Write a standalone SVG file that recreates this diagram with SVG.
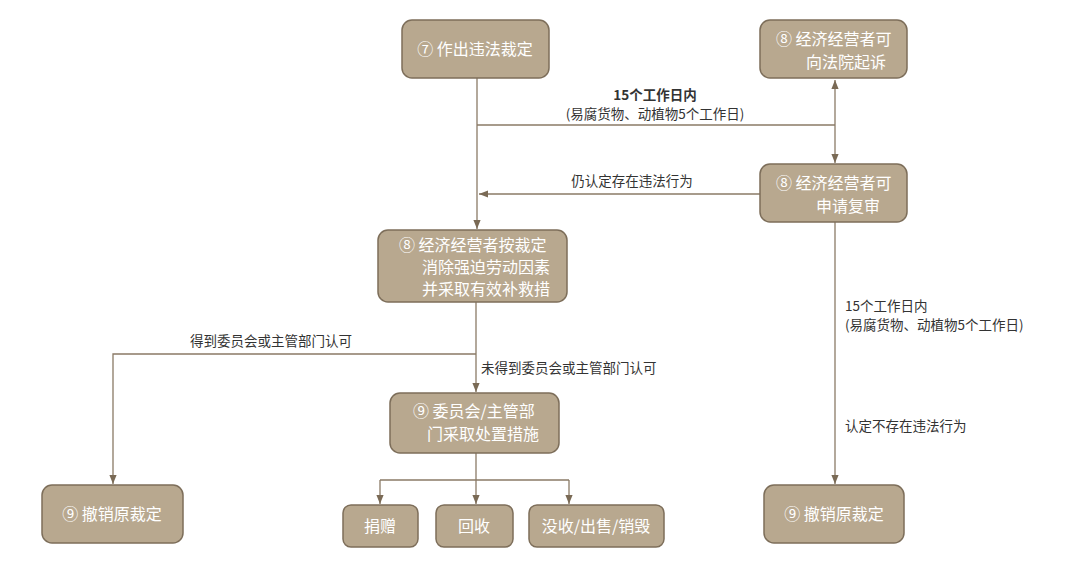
<svg xmlns="http://www.w3.org/2000/svg" width="1080" height="567" viewBox="0 0 1080 567">
<defs>
<marker id="a" viewBox="0 0 10 10" refX="10" refY="5" markerWidth="7" markerHeight="7" orient="auto-start-reverse"><path d="M0,1 L10,5 L0,9 Z" fill="#7a6a55"/></marker>
<style>
.n rect{fill:#b8a88f;stroke:#7d6e5a;stroke-width:1.5}
.n text{fill:#fff;font-family:"Noto Sans CJK SC","Noto Sans",sans-serif;font-size:16px}
.c path{fill:none;stroke:#8a7a66;stroke-width:1.3}
.c .ar{marker-end:url(#a)}
.l{fill:#333;font-family:"Noto Sans CJK SC","Noto Sans",sans-serif;font-size:13.5px}
</style>
</defs>
<rect width="1080" height="567" fill="#fff"/>
<g class="c">
<path class="ar" d="M477,78 V229"/>
<path d="M477,125 H835"/>
<path class="ar" d="M835,125 V80"/>
<path class="ar" d="M835,125 V163"/>
<path class="ar" d="M760,194 H479"/>
<path class="ar" d="M835,222 V484"/>
<path class="ar" d="M476,302 V392"/>
<path class="ar" d="M476,354 H113 V484"/>
<path class="ar" d="M476,453 V504"/>
<path d="M380,480 H569"/>
<path class="ar" d="M380,480 V504"/>
<path class="ar" d="M569,480 V504"/>
</g>
<g id="labels" class="l">
<text x="655" y="100" text-anchor="middle" font-weight="bold">15个工作日内</text>
<text x="655" y="119" text-anchor="middle">(易腐货物、动植物5个工作日)</text>
<text x="632" y="186" text-anchor="middle">仍认定存在违法行为</text>
<text x="845" y="311">15个工作日内</text>
<text x="845" y="330">(易腐货物、动植物5个工作日)</text>
<text x="845" y="431">认定不存在违法行为</text>
<text x="190" y="346">得到委员会或主管部门认可</text>
<text x="481" y="373">未得到委员会或主管部门认可</text>
</g>
<g id="n1" class="n"><rect x="402" y="20" width="147" height="58" rx="10"/><text x="475" y="55" text-anchor="middle">⑦ 作出违法裁定</text></g>
<g id="n2" class="n"><rect x="760" y="20" width="147" height="58" rx="10"/><text x="776" y="45">⑧ 经济经营者可</text><text x="806" y="68">向法院起诉</text></g>
<g id="n3" class="n"><rect x="760" y="164" width="147" height="58" rx="10"/><text x="776" y="189">⑧ 经济经营者可</text><text x="816" y="212">申请复审</text></g>
<g id="n4" class="n"><rect x="378" y="230" width="189" height="72" rx="10"/><text x="399" y="251">⑧ 经济经营者按裁定</text><text x="422" y="273">消除强迫劳动因素</text><text x="422" y="295">并采取有效补救措</text></g>
<g id="n5" class="n"><rect x="390" y="393" width="169" height="60" rx="10"/><text x="413" y="417">⑨ 委员会/主管部</text><text x="427" y="440">门采取处置措施</text></g>
<g id="n6" class="n"><rect x="42" y="485" width="141" height="58" rx="10"/><text x="112" y="520" text-anchor="middle">⑨ 撤销原裁定</text></g>
<g id="n7" class="n"><rect x="764" y="485" width="140" height="58" rx="10"/><text x="834" y="520" text-anchor="middle">⑨ 撤销原裁定</text></g>
<g id="n8" class="n"><rect x="343" y="505" width="75" height="42" rx="8"/><text x="380" y="532" text-anchor="middle">捐赠</text></g>
<g id="n9" class="n"><rect x="436" y="505" width="77" height="42" rx="8"/><text x="474" y="532" text-anchor="middle">回收</text></g>
<g id="n10" class="n"><rect x="529" y="505" width="135" height="42" rx="8"/><text x="596" y="532" text-anchor="middle">没收/出售/销毁</text></g>
</svg>
